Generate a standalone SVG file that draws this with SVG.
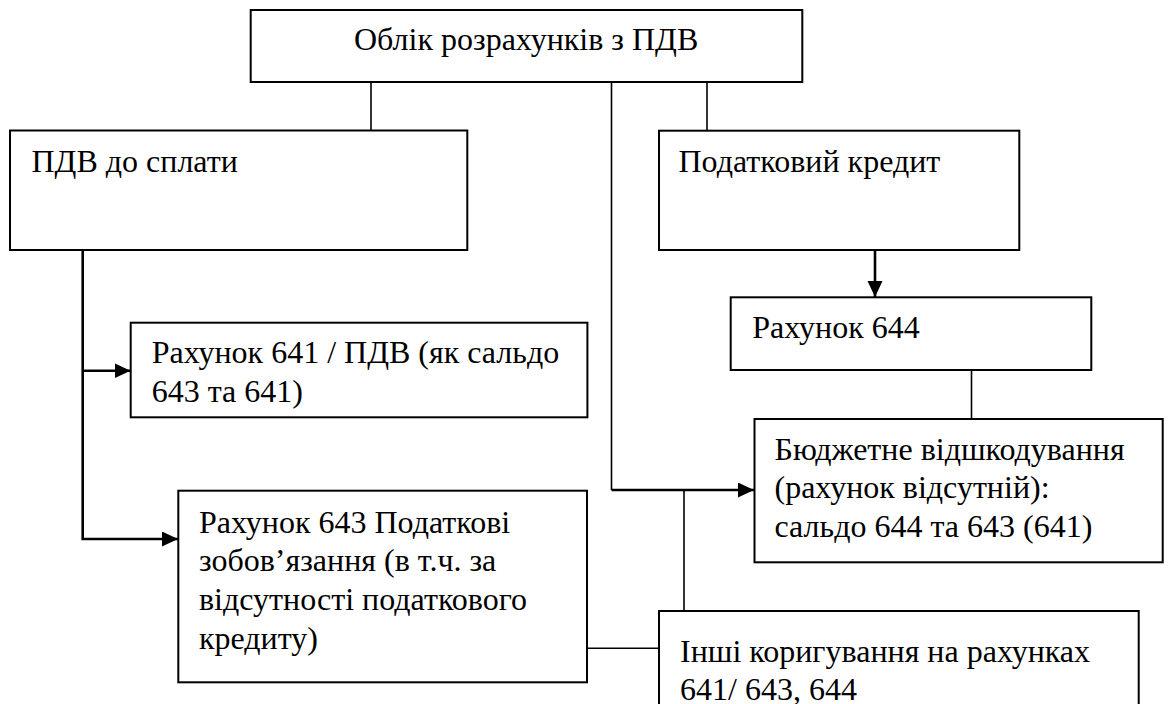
<svg xmlns="http://www.w3.org/2000/svg" width="1168" height="704" viewBox="0 0 1168 704">
<style>
.box{fill:#fff;stroke:#000;stroke-width:2}
.t{font-family:"Liberation Serif","Times New Roman",serif;font-size:32px;fill:#000}
.thin{fill:none;stroke:#000;stroke-width:1.6}
.thick{fill:none;stroke:#000;stroke-width:2.6}
</style>
<defs>
<marker id="ah" markerUnits="userSpaceOnUse" markerWidth="16" markerHeight="16" refX="16" refY="7.5" orient="auto">
<path d="M0,0 L16,7.5 L0,15 Z" fill="#000"/>
</marker>
</defs>
<rect width="1168" height="704" fill="#fff"/>
<g id="connectors">
<path class="thin" d="M371,82 V130"/>
<path class="thin" d="M707,82 V131"/>
<path class="thin" d="M611.5,82 V490"/>
<path class="thick" d="M611.5,490 H754" marker-end="url(#ah)"/>
<path class="thick" d="M82.7,250 V539 H178" marker-end="url(#ah)"/>
<path class="thick" d="M82.7,370.7 H130.5" marker-end="url(#ah)"/>
<path class="thick" d="M875,250 V297" marker-end="url(#ah)"/>
<path class="thin" d="M971.5,370 V419"/>
<path class="thin" d="M684,490 V611"/>
<path class="thin" d="M587,648.3 H659"/>
</g>
<g id="n-title">
<rect class="box" x="250.7" y="10" width="551.6" height="72"/>
<text class="t" x="354" y="50">Облік розрахунків з ПДВ</text>
</g>
<g id="n-pdv">
<rect class="box" x="10" y="130.5" width="457.3" height="119.5"/>
<text class="t" x="31.5" y="171.7">ПДВ до сплати</text>
</g>
<g id="n-credit">
<rect class="box" x="659" y="130.7" width="360.3" height="119.3"/>
<text class="t" x="678.5" y="171.7">Податковий кредит</text>
</g>
<g id="n-641">
<rect class="box" x="130.7" y="322.7" width="456.7" height="94.6"/>
<text class="t" x="151.7" y="363.3">Рахунок 641 / ПДВ (як сальдо</text>
<text class="t" x="151.7" y="401.7">643 та 641)</text>
</g>
<g id="n-644">
<rect class="box" x="730.7" y="297.3" width="360.6" height="72.7"/>
<text class="t" x="752.3" y="338.3">Рахунок 644</text>
</g>
<g id="n-budget">
<rect class="box" x="754.5" y="419" width="408.2" height="143.3"/>
<text class="t" x="774.5" y="460">Бюджетне відшкодування</text>
<text class="t" x="774.5" y="498.3">(рахунок відсутній):</text>
<text class="t" x="774.5" y="536.7">сальдо 644 та 643 (641)</text>
</g>
<g id="n-643">
<rect class="box" x="178.3" y="490.7" width="408.7" height="191.6"/>
<text class="t" x="199" y="532.5">Рахунок 643 Податкові</text>
<text class="t" x="199" y="571.2">зобов’язання (в т.ч. за</text>
<text class="t" x="199" y="609.9">відсутності податкового</text>
<text class="t" x="199" y="648.6">кредиту)</text>
</g>
<g id="n-other">
<rect class="box" x="659" y="611" width="479.7" height="120"/>
<text class="t" x="680" y="662.3">Інші коригування на рахунках</text>
<text class="t" x="680" y="700">641/ 643, 644</text>
</g>
</svg>
